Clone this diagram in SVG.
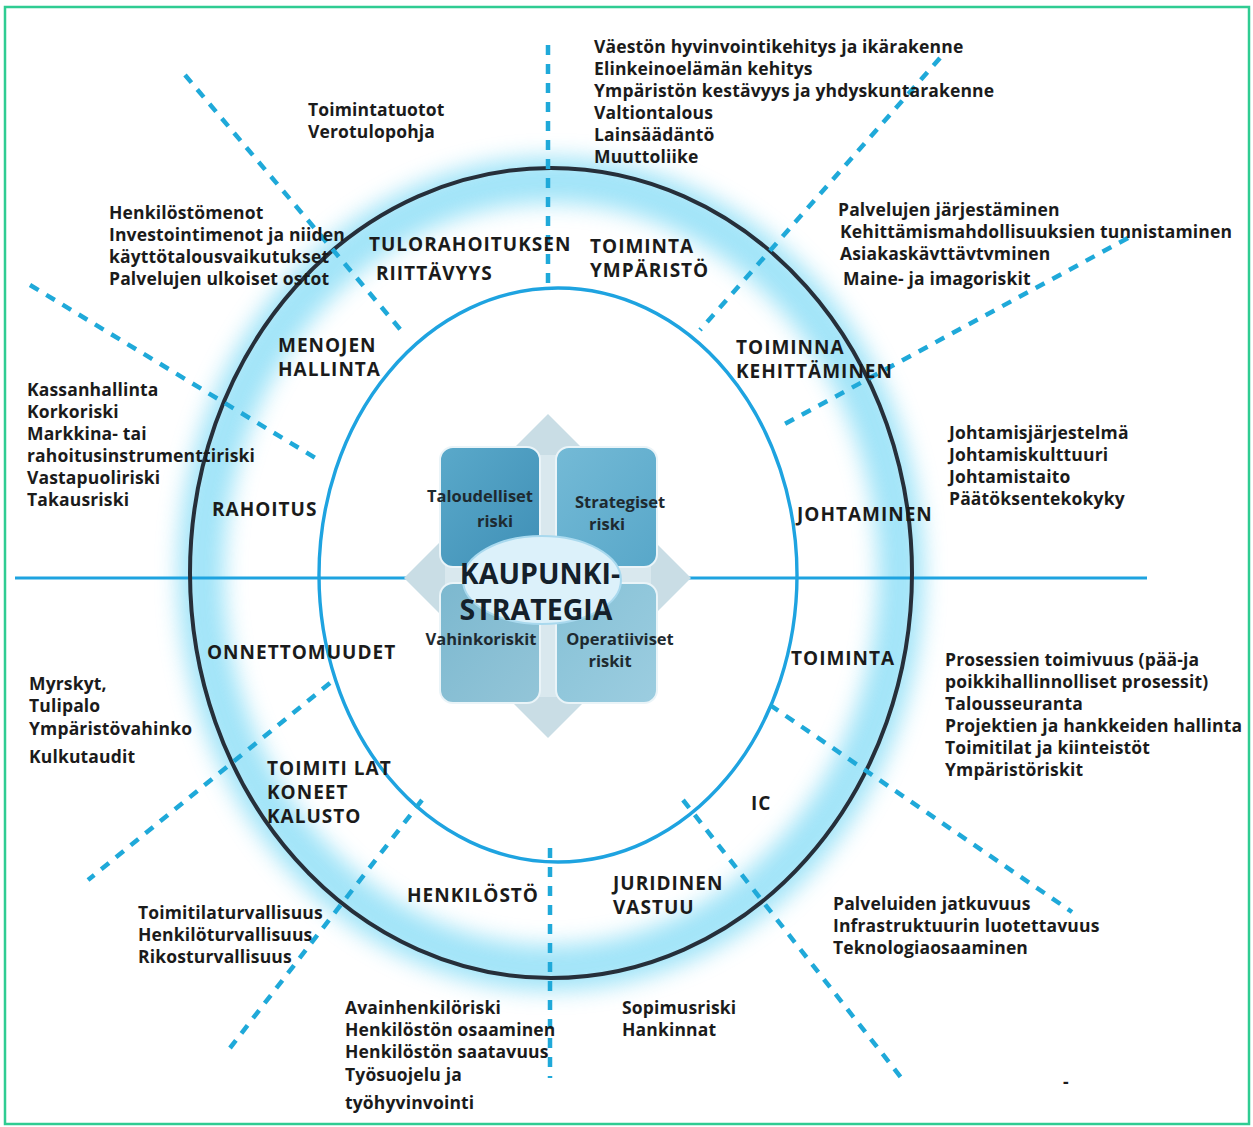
<svg xmlns="http://www.w3.org/2000/svg" width="1253" height="1127" viewBox="0 0 1253 1127">
<defs>
<style>
.t{font-family:"Open Sans","Noto Sans","DejaVu Sans",sans-serif;font-weight:700;fill:#1b1b1b;font-size:17.5px;letter-spacing:0.15px}
.r{font-family:"Open Sans","Noto Sans","DejaVu Sans",sans-serif;font-weight:700;fill:#1b1b1b;font-size:19px;letter-spacing:1px}
.q{font-family:"Open Sans","Noto Sans","DejaVu Sans",sans-serif;font-weight:700;fill:#1e2a30;font-size:16.5px}
.c{font-family:"Open Sans","Noto Sans","DejaVu Sans",sans-serif;font-weight:700;fill:#14202a;font-size:28.5px}
.d{stroke:#1fa9d9;stroke-width:4.5;stroke-dasharray:10 9;fill:none}
</style>
<filter id="blur" x="-20%" y="-20%" width="140%" height="140%"><feGaussianBlur stdDeviation="11"/></filter>
<linearGradient id="g1" x1="0" y1="0" x2="1" y2="1"><stop offset="0" stop-color="#5aa9ca"/><stop offset="1" stop-color="#3f8fb6"/></linearGradient>
<linearGradient id="g2" x1="0" y1="0" x2="1" y2="1"><stop offset="0" stop-color="#74bad6"/><stop offset="1" stop-color="#58a7c9"/></linearGradient>
<linearGradient id="g3" x1="0" y1="0" x2="1" y2="1"><stop offset="0" stop-color="#7cb8cf"/><stop offset="1" stop-color="#93c5d8"/></linearGradient>
<linearGradient id="g4" x1="0" y1="0" x2="1" y2="1"><stop offset="0" stop-color="#86c1d6"/><stop offset="1" stop-color="#9ccde0"/></linearGradient>
</defs>
<rect x="0" y="0" width="1253" height="1127" fill="#ffffff"/>
<rect x="5" y="7" width="1244" height="1117" fill="none" stroke="#2fcc92" stroke-width="2.5"/>

<g id="rings">
<ellipse cx="551" cy="574" rx="350" ry="394" fill="none" stroke="#7ad9f5" stroke-width="46" opacity="0.7" filter="url(#blur)"/>
<line x1="15" y1="578" x2="1147" y2="578" stroke="#1ea3e0" stroke-width="3"/>
<ellipse cx="551" cy="573" rx="361" ry="405" fill="none" stroke="#262f3a" stroke-width="4"/>
<ellipse cx="558" cy="575" rx="239" ry="287" fill="none" stroke="#1ea3e0" stroke-width="3.4"/>
</g>

<g id="connectors">
<line class="d" x1="548" y1="45" x2="548" y2="290"/>
<line class="d" x1="550" y1="848" x2="550" y2="1078"/>
<line class="d" x1="185" y1="75" x2="405" y2="335"/>
<line class="d" x1="30" y1="285" x2="322" y2="462"/>
<line class="d" x1="940" y1="58" x2="700" y2="330"/>
<line class="d" x1="1128" y1="238" x2="783" y2="425"/>
<line class="d" x1="330" y1="683" x2="88" y2="880"/>
<line class="d" x1="422" y1="800" x2="230" y2="1048"/>
<line class="d" x1="683" y1="800" x2="903" y2="1080"/>
<line class="d" x1="770" y1="705" x2="1072" y2="912"/>
</g>

<g id="center">
<polygon points="548,414 590,456 506,456" fill="#c9dde5"/>
<polygon points="548,738 590,696 506,696" fill="#c9dde5"/>
<polygon points="404,578 446,536 446,620" fill="#c9dde5"/>
<polygon points="691,578 649,536 649,620" fill="#c9dde5"/>
<rect x="470" y="455" width="156" height="242" fill="#d9e8ee"/>
<rect x="445" y="500" width="206" height="156" fill="#d9e8ee"/>
<rect x="440" y="447" width="100" height="120" rx="13" fill="url(#g1)" stroke="#eaf4f8" stroke-width="2"/>
<rect x="556" y="447" width="101" height="120" rx="13" fill="url(#g2)" stroke="#eaf4f8" stroke-width="2"/>
<rect x="440" y="583" width="100" height="120" rx="13" fill="url(#g3)" stroke="#eaf4f8" stroke-width="2"/>
<rect x="556" y="583" width="101" height="120" rx="13" fill="url(#g4)" stroke="#eaf4f8" stroke-width="2"/>
<ellipse cx="542" cy="580" rx="79" ry="44" fill="#dcf1fa" stroke="#a9d9ee" stroke-width="2"/>
<text class="q" x="480" y="502" text-anchor="middle">Taloudelliset</text>
<text class="q" x="495" y="527" text-anchor="middle">riski</text>
<text class="q" x="620" y="508" text-anchor="middle">Strategiset</text>
<text class="q" x="607" y="530" text-anchor="middle">riski</text>
<text class="q" x="481" y="645" text-anchor="middle">Vahinkoriskit</text>
<text class="q" x="620" y="645" text-anchor="middle">Operatiiviset</text>
<text class="q" x="610" y="667" text-anchor="middle">riskit</text>
<text class="c" x="540" y="584" text-anchor="middle">KAUPUNKI-</text>
<text class="c" x="536" y="620" text-anchor="middle">STRATEGIA</text>
</g>

<g id="ring-labels">
<text class="r" x="369" y="251">TULORAHOITUKSEN</text>
<text class="r" x="376" y="280">RIITTÄVYYS</text>
<text class="r" x="590" y="253">TOIMINTA</text>
<text class="r" x="590" y="277">YMPÄRISTÖ</text>
<text class="r" x="278" y="352">MENOJEN</text>
<text class="r" x="278" y="376">HALLINTA</text>
<text class="r" x="736" y="354">TOIMINNA</text>
<text class="r" x="736" y="378">KEHITTÄMINEN</text>
<text class="r" x="212" y="516">RAHOITUS</text>
<text class="r" x="797" y="521">JOHTAMINEN</text>
<text class="r" x="207" y="659">ONNETTOMUUDET</text>
<text class="r" x="791" y="665">TOIMINTA</text>
<text class="r" x="267" y="775">TOIMITI LAT</text>
<text class="r" x="267" y="799">KONEET</text>
<text class="r" x="267" y="823">KALUSTO</text>
<text class="r" x="751" y="810">IC</text>
<text class="r" x="407" y="902">HENKILÖSTÖ</text>
<text class="r" x="613" y="890">JURIDINEN</text>
<text class="r" x="613" y="914">VASTUU</text>
</g>

<g id="toimintaymparisto-risks">
<text class="t" x="594" y="53">Väestön hyvinvointikehitys ja ikärakenne</text>
<text class="t" x="594" y="75">Elinkeinoelämän kehitys</text>
<text class="t" x="594" y="97">Ympäristön kestävyys ja yhdyskuntarakenne</text>
<text class="t" x="594" y="119">Valtiontalous</text>
<text class="t" x="594" y="141">Lainsäädäntö</text>
<text class="t" x="594" y="163">Muuttoliike</text>
</g>
<g id="tulorahoitus-risks">
<text class="t" x="308" y="116">Toimintatuotot</text>
<text class="t" x="308" y="138">Verotulopohja</text>
</g>
<g id="menot-risks">
<text class="t" x="109" y="219">Henkilöstömenot</text>
<text class="t" x="109" y="241">Investointimenot ja niiden</text>
<text class="t" x="109" y="263">käyttötalousvaikutukset</text>
<text class="t" x="109" y="285">Palvelujen ulkoiset ostot</text>
</g>
<g id="kehittaminen-risks">
<text class="t" x="838" y="216">Palvelujen järjestäminen</text>
<text class="t" x="840" y="238">Kehittämismahdollisuuksien tunnistaminen</text>
<text class="t" x="840" y="260">Asiakaskävttävtvminen</text>
<text class="t" x="843" y="285">Maine- ja imagoriskit</text>
</g>
<g id="rahoitus-risks">
<text class="t" x="27" y="396">Kassanhallinta</text>
<text class="t" x="27" y="418">Korkoriski</text>
<text class="t" x="27" y="440">Markkina- tai</text>
<text class="t" x="27" y="462">rahoitusinstrumenttiriski</text>
<text class="t" x="27" y="484">Vastapuoliriski</text>
<text class="t" x="27" y="506">Takausriski</text>
</g>
<g id="johtaminen-risks">
<text class="t" x="949" y="439">Johtamisjärjestelmä</text>
<text class="t" x="949" y="461">Johtamiskulttuuri</text>
<text class="t" x="949" y="483">Johtamistaito</text>
<text class="t" x="949" y="505">Päätöksentekokyky</text>
</g>
<g id="toiminta-risks">
<text class="t" x="945" y="666">Prosessien toimivuus (pää-ja</text>
<text class="t" x="945" y="688">poikkihallinnolliset prosessit)</text>
<text class="t" x="945" y="710">Talousseuranta</text>
<text class="t" x="945" y="732">Projektien ja hankkeiden hallinta</text>
<text class="t" x="945" y="754">Toimitilat ja kiinteistöt</text>
<text class="t" x="945" y="776">Ympäristöriskit</text>
</g>
<g id="onnettomuudet-risks">
<text class="t" x="29" y="690">Myrskyt,</text>
<text class="t" x="29" y="712">Tulipalo</text>
<text class="t" x="29" y="735">Ympäristövahinko</text>
<text class="t" x="29" y="763">Kulkutaudit</text>
</g>
<g id="toimitilat-risks">
<text class="t" x="138" y="919">Toimitilaturvallisuus</text>
<text class="t" x="138" y="941">Henkilöturvallisuus</text>
<text class="t" x="138" y="963">Rikosturvallisuus</text>
</g>
<g id="henkilosto-risks">
<text class="t" x="345" y="1014">Avainhenkilöriski</text>
<text class="t" x="345" y="1036">Henkilöstön osaaminen</text>
<text class="t" x="345" y="1058">Henkilöstön saatavuus</text>
<text class="t" x="345" y="1081">Työsuojelu ja</text>
<text class="t" x="345" y="1109">työhyvinvointi</text>
</g>
<g id="juridinen-risks">
<text class="t" x="622" y="1014">Sopimusriski</text>
<text class="t" x="622" y="1036">Hankinnat</text>
</g>
<g id="ic-risks">
<text class="t" x="833" y="910">Palveluiden jatkuvuus</text>
<text class="t" x="833" y="932">Infrastruktuurin luotettavuus</text>
<text class="t" x="833" y="954">Teknologiaosaaminen</text>
</g>
<g id="stray">
<text class="t" x="1063" y="1088">-</text>
</g>
</svg>
